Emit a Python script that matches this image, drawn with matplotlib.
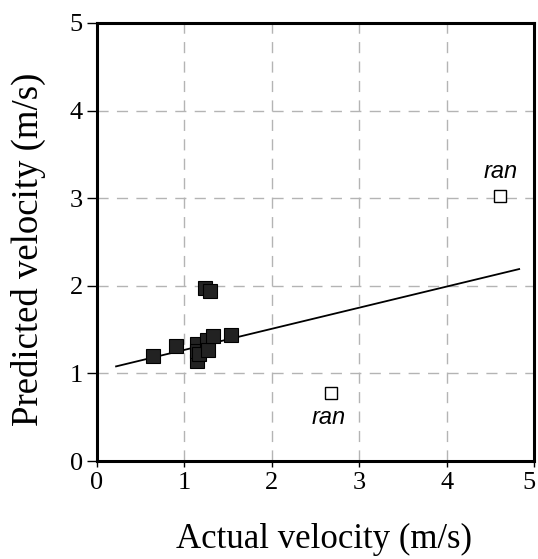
import matplotlib.pyplot as plt
from matplotlib.transforms import ScaledTranslation

# filled points (actual, predicted)
actual = [0.64, 0.91, 1.14, 1.15, 1.14, 1.17, 1.26, 1.27, 1.33, 1.54, 1.24, 1.29]
predicted = [1.20, 1.31, 1.34, 1.14, 1.25, 1.22, 1.38, 1.27, 1.43, 1.44, 1.98, 1.94]

# open points labelled "ran"
ran_actual = [4.61, 2.68]
ran_predicted = [3.02, 0.78]

# regression line
line_x = [0.22, 4.83]
slope, intercept = 0.241, 1.027

serif = 'Liberation Serif'

fig = plt.figure(figsize=(5.38, 5.59), dpi=100)
ax = fig.add_axes([0.180, 0.1753, 0.8126, 0.7836])

ax.grid(True, color='#b4b4b4', linestyle=(0, (8, 6)), linewidth=1)
ax.set_axisbelow(True)

ax.plot(line_x, [intercept + slope * x for x in line_x], color='black', lw=1.3, zorder=2)
ax.plot(actual, predicted, 's', ms=10.5, mfc='#222222', mec='black', mew=0.8, zorder=3)
ax.plot(ran_actual, ran_predicted, 's', ms=8.5, mfc='white', mec='black', mew=1.0, zorder=3)

ax.text(ran_actual[0] + 0.01, ran_predicted[0] + 0.15, 'ran', fontsize=17, style='italic',
        family='Liberation Sans', ha='center', va='bottom')
ax.text(ran_actual[1] - 0.03, ran_predicted[1] - 0.15, 'ran', fontsize=17, style='italic',
        family='Liberation Sans', ha='center', va='top')

ax.set_xlim(0, 5)
ax.set_ylim(0, 5)
ax.set_xticks(range(6))
ax.set_yticks(range(6))
ax.tick_params(axis='x', direction='out', length=4, width=1, labelsize=19, pad=4)
ax.tick_params(axis='y', direction='out', length=7, width=1, labelsize=19, pad=3)
for lab in ax.get_xticklabels() + ax.get_yticklabels():
    lab.set_family(serif)
# keep the last x tick label inside the figure
last = ax.get_xticklabels()[-1]
last.set_transform(last.get_transform() + ScaledTranslation(-5 / 100, 0, fig.dpi_scale_trans))
for sp in ax.spines.values():
    sp.set_linewidth(2.2)

ax.set_xlabel('Actual velocity (m/s)', fontsize=25, family=serif, va='center')
ax.set_ylabel('Predicted velocity (m/s)', fontsize=26.5, family=serif, va='center')
ax.xaxis.set_label_coords(0.519, -0.178)
ax.yaxis.set_label_coords(-0.156, 0.484)

fig.savefig('out.png', dpi=100)
